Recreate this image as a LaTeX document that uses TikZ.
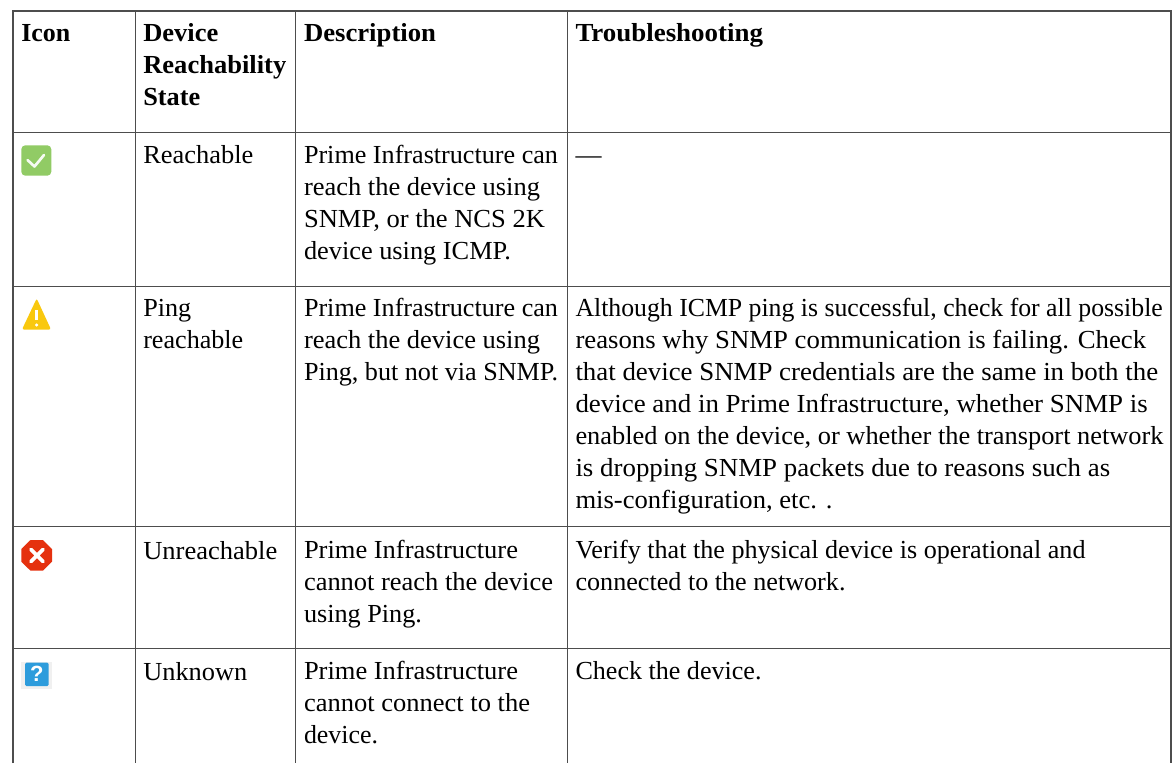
\documentclass[tikz,border=0pt]{standalone}
\usepackage{fontspec}
\usepackage{graphicx}
\setmainfont{Liberation Serif}
\newfontfamily\iconfont{Liberation Sans}
\newlength{\pxu}\setlength{\pxu}{0.75pt}
\newcommand{\fitw}[2]{\resizebox{#1\pxu}{\height}{#2}}
\definecolor{rule}{HTML}{4D4D4D}
\definecolor{okgreen}{HTML}{91CB65}
\definecolor{warnyel}{HTML}{F9C80E}
\definecolor{errred}{HTML}{E5310F}
\definecolor{qblue}{HTML}{2D9CDC}
\tikzset{
 x=0.75pt,y=-0.75pt,
 gridline/.style={draw=rule,line width=1pt},
 outerline/.style={draw=rule,line width=1.4pt},
 cell/.style={anchor=base west,inner sep=0pt,outer sep=0pt,font=\fontsize{19.5pt}{22pt}\selectfont,text=black},
 head/.style={cell,font=\fontsize{19.5pt}{22pt}\selectfont\bfseries},
}
\begin{document}
\begin{tikzpicture}
\useasboundingbox (0,0) rectangle (1173,763);
\fill[white] (0,0) rectangle (1173,763);
% grid
\foreach \yy in {132.5,286.5,526.5,648.5}{\draw[gridline] (13,\yy) -- (1171,\yy);}
\foreach \xx in {135.5,295.5,567.5}{\draw[gridline] (\xx,11) -- (\xx,763);}
\draw[outerline] (13,763) -- (13,11) -- (1171,11) -- (1171,763);
% header
\node[head] (h1) at (21.3,42) {\fitw{49}{Icon}};
\node[head] (h2a) at (143.3,42) {\fitw{75}{Device}};
\node[head] (h2b) at (143.3,74) {\fitw{143}{Reachability}};
\node[head] (h2c) at (143.3,106) {\fitw{57}{State}};
\node[head] (h3) at (304,42) {\fitw{132}{Description}};
\node[head] (h4) at (575.5,42) {\fitw{187.5}{Troubleshooting}};
% row 1
\node[cell] (r1s) at (143.3,163) {\fitw{110}{Reachable}};
\node[cell] (r1d1) at (304,163) {\fitw{254}{Prime Infrastructure can}};
\node[cell] (r1d2) at (304,195) {\fitw{236}{reach the device using}};
\node[cell] (r1d3) at (304,227) {\fitw{241}{SNMP, or the NCS 2K}};
\node[cell] (r1d4) at (304,259) {\fitw{207}{device using ICMP.}};
\node[cell] (r1t) at (575.5,163) {—};
% row 2
\node[cell] (r2s1) at (143.3,316) {\fitw{48}{Ping}};
\node[cell] (r2s2) at (143.3,348) {\fitw{100}{reachable}};
\node[cell] (r2d1) at (304,316) {\fitw{254}{Prime Infrastructure can}};
\node[cell] (r2d2) at (304,348) {\fitw{236}{reach the device using}};
\node[cell] (r2d3) at (304,380) {\fitw{254}{Ping, but not via SNMP.}};
\node[cell] (r2t1) at (575.5,316) {\fitw{587.3}{Although ICMP ping is successful, check for all possible}};
\node[cell] (r2t2) at (575.5,348) {\fitw{570.7}{reasons why SNMP communication is failing. Check}};
\node[cell] (r2t3) at (575.5,380) {\fitw{582.6}{that device SNMP credentials are the same in both the}};
\node[cell] (r2t4) at (575.5,412) {\fitw{572.3}{device and in Prime Infrastructure, whether SNMP is}};
\node[cell] (r2t5) at (575.5,444) {\fitw{588}{enabled on the device, or whether the transport network}};
\node[cell] (r2t6) at (575.5,476) {\fitw{534.7}{is dropping SNMP packets due to reasons such as}};
\node[cell] (r2t7) at (575.5,508) {\fitw{257}{mis-configuration, etc. .}};
% row 3
\node[cell] (r3s) at (143.3,559) {\fitw{134}{Unreachable}};
\node[cell] (r3d1) at (304,558.5) {\fitw{214}{Prime Infrastructure}};
\node[cell] (r3d2) at (304,590) {\fitw{249}{cannot reach the device}};
\node[cell] (r3d3) at (304,622) {\fitw{118}{using Ping.}};
\node[cell] (r3t1) at (575.5,558.5) {\fitw{510}{Verify that the physical device is operational and}};
\node[cell] (r3t2) at (575.5,590) {\fitw{270}{connected to the network.}};
% row 4
\node[cell] (r4s) at (143.3,680) {\fitw{104}{Unknown}};
\node[cell] (r4d1) at (304,679) {\fitw{214}{Prime Infrastructure}};
\node[cell] (r4d2) at (304,711) {\fitw{226}{cannot connect to the}};
\node[cell] (r4d3) at (304,743) {\fitw{74}{device.}};
\node[cell] (r4t) at (575.5,679) {\fitw{186}{Check the device.}};
% icons
\fill[okgreen,rounded corners=3pt] (21.3,145.3) rectangle (51.3,175.7);
\draw[white!92!okgreen,line width=2pt,line cap=round,line join=round] (27.5,160) -- (34.5,166.5) -- (44,155);
\fill[warnyel,rounded corners=1.5pt] (36.7,298.5) -- (51,329.5) -- (22,329.5) -- cycle;
\draw[white,line width=2pt] (36.6,310) -- (36.6,320);
\fill[white] (36.6,325) circle (1.3pt);
\fill[errred] (30.5,540) -- (43,540) -- (52,549) -- (52,561.7) -- (43,570.7) -- (30.5,570.7) -- (21.3,561.7) -- (21.3,549) -- cycle;
\draw[white,line width=2.8pt,line cap=round] (31,549.5) -- (43,561.5) (43,549.5) -- (31,561.5);
\fill[black!6] (21.3,661.7) rectangle (52,688.7);
\fill[qblue,rounded corners=1pt] (25,662.7) rectangle (48.7,686);
\node[inner sep=0pt,font=\iconfont\bfseries\fontsize{16.5pt}{16.5pt}\selectfont,text=white] (qm) at (36.8,674.3) {?};
\end{tikzpicture}
\end{document}
